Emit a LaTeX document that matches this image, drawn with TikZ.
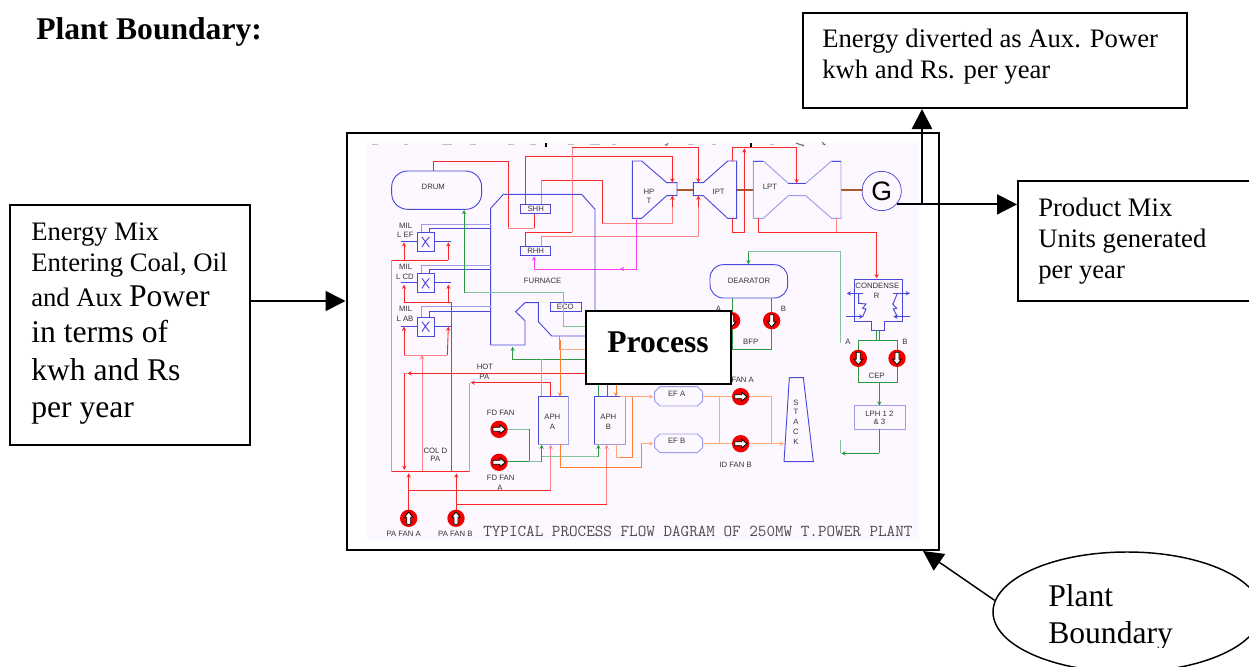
\documentclass[tikz,border=0pt]{standalone}
\usepackage{fontspec}
\setmainfont{Liberation Serif}
\newfontfamily\lsans{Liberation Sans}
\usetikzlibrary{arrows.meta,shapes.geometric}
\definecolor{cred}{HTML}{F82828}
\definecolor{lred}{HTML}{FF8484}
\definecolor{cblue}{HTML}{4A4AD8}
\definecolor{lblue}{HTML}{9C9CE8}
\definecolor{cgreen}{HTML}{2E9A3E}
\definecolor{lgreen}{HTML}{84C49A}
\definecolor{corange}{HTML}{FF8030}
\definecolor{lorange}{HTML}{FFAA78}
\definecolor{cmag}{HTML}{FF40F0}
\definecolor{cbrown}{HTML}{A85A28}
\definecolor{bgp}{HTML}{FDF8FF}
\newcommand{\lsz}{\fontsize{20}{22}\selectfont}
\newcommand{\bsz}{\fontsize{23.7}{26}\selectfont}
\newcommand{\fanat}[3]{%
  \begin{scope}[shift={(#1,#2)},rotate=#3]
    \fill[red!95!black] (0,0) circle[radius=26];
    \draw[black,line width=.6pt,fill=white] (-18,-6)--(3,-6)--(3,-13)--(19,0)--(3,13)--(3,6)--(-18,6)--cycle;
  \end{scope}}
\tikzset{
  box/.style={draw=black,line width=1.5pt,fill=white,inner sep=0pt},
  big/.style={anchor=base west,inner sep=0pt,font=\lsz},
  bigger/.style={anchor=base west,inner sep=0pt,font=\bsz},
  lab/.style={inner sep=0pt,font=\lsans\fontsize{5.8}{6}\selectfont,text=black!80},
  link/.style={line width=1.3pt,draw=black,-{Triangle[length=15pt,width=15pt]}},
  arr/.style={-{Stealth[length=3.2pt,width=3.2pt]}},
  zoomA/.style={shift={(350,130)},x=.25pt,y=-.25pt},
  zoomB/.style={shift={(620,130)},x=.25pt,y=-.25pt},
  zoomC/.style={shift={(350,340)},x=.25pt,y=-.25pt},
  zoomD/.style={shift={(620,340)},x=.25pt,y=-.25pt},
  pipe/.style={line width=.65pt,line join=miter},
  equip/.style={line width=.7pt,draw=cblue},
  equipl/.style={line width=.7pt,draw=lblue}
}
\begin{document}
\begin{tikzpicture}[x=.75pt,y=-.75pt]
\path[clip] (0,0) rectangle (1249,667);

% plant frame and drawing background
\node[box,minimum width=592*.75pt,minimum height=417*.75pt] (frame) at (642.5,341.5) {};
\fill[bgp] (367,143) rectangle (919,540);
% remains of a cut-off heading at the top edge of the drawing
\foreach \xa/\xb in {372/378,404/408,442/452,470/476,508/514,530/536,568/574,590/600,612/616,664/668,688/694,712/716,770/774,798/804,822/826}
  \draw[black!25,line width=.5pt] (\xa,144)--(\xb,144);
\draw[black,line width=1pt] (546,143)--(546,147);
\draw[black,line width=1pt] (751,143)--(751,147);
\draw[black!60,line width=.7pt] (668,143)--(666,146) (796,143)--(804,146) (822,142)--(825,145);

% ---------- upper left of the flow diagram ----------
\begin{scope}[zoomA]
  \draw[equip,rounded corners=12pt] (125,123) rectangle (395,238);
  \node[lab] (drum) at (250,172) {DRUM};
  \draw[pipe,cred] (250,123)--(250,95)--(475,95)--(475,290);
  \draw[pipe,lred] (475,290)--(475,295)--(552,295);
  \draw[pipe,cred] (552,295)--(552,250);
  \draw[pipe,cred] (525,222)--(525,80)--(900,80);
  \draw[pipe,lred] (575,222)--(575,150);
  \draw[pipe,cred] (575,150)--(757,150)--(757,280);
  \draw[pipe,lred] (757,280)--(900,280);
  \draw[pipe,cred] (525,347)--(525,307)--(667,307);
  \draw[pipe,lred] (667,307)--(667,52);
  \draw[pipe,cred] (667,52)--(900,52);
  \draw[pipe,lred] (575,347)--(575,320)--(900,320);
  \draw[pipe,cmag,arr] (862,417)--(552,417)--(552,379);
  % furnace
  \draw[equip] (422,645)--(422,235)--(460,193)--(695,193)--(735,238)--(735,560);
  \draw[equip] (710,618)--(605,618)--(565,575)--(565,518)--(525,518)--(497,545)--(525,572)--(525,645)--(422,645);
  \draw[equip] (512,223) rectangle (602,250);
  \draw[equip] (512,348) rectangle (602,377);
  \draw[equip] (602,518) rectangle (694,545);
  \node[lab] (shh) at (557,237) {SHH};
  \node[lab] (rhh) at (557,363) {RHH};
  \node[lab] (eco) at (646,532) {ECO};
  \node[lab] (furn) at (578,453) {FURNACE};
  % mills
  \foreach \t/\a/\b in {307/282/295,431/405/418,561/530/544}{
    \draw[equipl] (422,\a)--(215,\a)--(215,\t);
    \draw[equip] (422,\b)--(238,\b)--(238,\t);
    \draw[equip] (202,\t) rectangle (254,\t+57);
    \draw[equip] (216,\t+14)--(226,\t+28)--(216,\t+44) (238,\t+14)--(226,\t+28)--(238,\t+44);
    \draw[equip] (152,\t+27)--(202,\t+27) (254,\t+27)--(302,\t+27);
  }
  \node[lab] (m1a) at (167,287) {MIL};
  \node[lab] (m1b) at (166,314) {L EF};
  \node[lab] (m2a) at (167,411) {MIL};
  \node[lab] (m2b) at (165,440) {L CD};
  \node[lab] (m3a) at (167,537) {MIL};
  \node[lab] (m3b) at (165,567) {L AB};
  % mill air
  \draw[pipe,lred] (125,390)--(125,690);
  \draw[pipe,cred,arr] (162,390)--(162,337);
  \draw[pipe,cred] (125,390)--(295,390);
  \draw[pipe,cred,arr] (295,390)--(295,337);
  \draw[pipe,cred,arr] (162,517)--(162,464);
  \draw[pipe,cred] (162,517)--(305,517);
  \draw[pipe,cred,arr] (295,517)--(295,464);
  \draw[pipe,cred] (305,517)--(305,690);
  \draw[pipe,cred,arr] (162,675)--(162,590);
  \draw[pipe,cred,arr] (292,675)--(295,590);
  % feed water
  \draw[pipe,lgreen] (342,488)--(640,488)--(640,588)--(710,588);
  \draw[pipe,cgreen,arr] (342,488)--(342,240);
  \draw[pipe,corange] (628,618)--(628,660);
  \draw[pipe,corange] (628,658)--(710,658);
\end{scope}

% ---------- upper right: turbines, deaerator, condenser ----------
\begin{scope}[zoomB]
  \draw[line width=2pt,cbrown] (171,180)--(220,180) (350,180)--(400,180) (663,180)--(728,180);
  \draw[equip] (37,93)--(65,93)--(140,158)--(171,158)--(171,197)--(140,197)--(65,265)--(37,265)--cycle;
  \draw[equip] (220,158)--(250,158)--(323,93)--(350,93)--(350,265)--(323,265)--(250,197)--(220,197)--cycle;
  \draw[equipl] (400,93)--(430,93)--(505,160)--(557,160)--(635,93)--(663,93)--(663,265)--(635,265)--(557,197)--(505,197)--(430,265)--(400,265)--cycle;
  \draw[equip] (505,160)--(557,160) (400,93)--(430,93) (635,93)--(663,93);
  \node[lab] (hp) at (87,186) {HP};
  \node[lab] (hpt) at (87,214) {T};
  \node[lab] (ipt) at (296,185) {IPT};
  \node[lab] (lpt) at (450,172) {LPT};
  \node[circle,draw=cblue,line width=.55pt,minimum size=118*.25pt,inner sep=0pt,font=\lsans\fontsize{20}{22}\selectfont] (G) at (785,183) {G};
  % steam lines
  \draw[pipe,cred,arr] (0,80)--(157,80)--(157,158);
  \draw[pipe,lred] (0,280)--(157,280)--(157,230);
  \draw[pipe,cred,arr] (157,230)--(157,197);
  \draw[pipe,cred,arr] (0,52)--(235,52)--(235,158);
  \draw[pipe,lred] (0,320)--(235,320)--(235,230);
  \draw[pipe,cred,arr] (235,230)--(235,197);
  \draw[pipe,cmag,arr] (50,265)--(50,417)--(0,417);
  \draw[pipe,cred] (337,93)--(337,52)--(530,52);
  \draw[pipe,cred,arr] (530,52)--(530,160);
  \draw[pipe,cred,arr] (337,265)--(337,307)--(373,307)--(373,55);
  \draw[pipe,cred] (415,265)--(415,307)--(770,307);
  \draw[pipe,cred,arr] (770,307)--(770,445);
  \draw[pipe,lred] (650,265)--(650,307);
  % deaerator
  \draw[pipe,lgreen] (662,640)--(662,365)--(385,365);
  \draw[pipe,cgreen,arr] (385,365)--(385,403);
  \draw[equip,rounded corners=10pt] (270,404) rectangle (503,504);
  \node[lab] (dear) at (387,453) {DEARATOR};
  \draw[pipe,cgreen] (337,504)--(337,657)--(453,657)--(453,504);
  \node[lab] (bfp) at (392,637) {BFP};
  \node[lab] (bb) at (490,537) {B};
  \node[lab] (ba) at (295,537) {A};
  \fanat{335}{572}{-90}
  \fanat{455}{572}{-90}
  % condenser
  \draw[equip] (702,447)--(847,447)--(847,574)--(793,574)--(793,600)--(755,600)--(755,574)--(702,574)--cycle;
  \node[lab] (cond) at (772,467) {CONDENSE};
  \node[lab] (condr) at (770,498) {R};
  \draw[equip,arr] (730,490)--(680,490);
  \draw[equip,arr] (820,490)--(870,490);
  \draw[equip,arr] (678,560)--(730,560);
  \draw[equip,arr] (870,560)--(820,560);
  \draw[equip] (716,490)--(716,520)--(738,522)--(728,535)--(738,537)--(728,560);
  \draw[equip] (832,490)--(820,520)--(818,522)--(830,535)--(820,537)--(832,560);
  \draw[pipe,cgreen] (770,600)--(770,630) (777,600)--(777,630);
  \draw[pipe,cgreen] (715,630)--(831,630);
  \node[lab] (ca) at (684,636) {A};
  \node[lab] (cb) at (855,636) {B};
\end{scope}

% ---------- lower left ----------
\begin{scope}[zoomC]
  \draw[pipe,lred] (125,0)--(125,395);
  \draw[pipe,lred] (162,45)--(292,45);
  \draw[pipe,lred,arr] (216,395)--(216,45);
  \draw[pipe,cred] (125,395)--(358,395);
  \draw[pipe,lred] (358,395)--(358,128);
  \draw[pipe,cred] (305,0)--(305,395);
  \draw[pipe,cred,arr] (705,100)--(172,100);
  \draw[pipe,lred] (163,100)--(172,100);
  \draw[pipe,cred,arr] (163,100)--(163,390);
  \draw[pipe,cred,arr] (602,170)--(602,128)--(362,128);
  \draw[pipe,cred,arr] (176,510)--(176,400);
  \draw[pipe,cred] (176,451)--(602,451);
  \draw[pipe,lred,arr] (602,451)--(602,314);
  \draw[pipe,cred,arr] (319,510)--(319,400);
  \draw[pipe,cred] (319,493)--(770,493);
  \draw[pipe,lred,arr] (770,493)--(770,314);
  \node[lab] (hot) at (405,82) {HOT};
  \node[lab] (hotpa) at (403,112) {PA};
  \node[lab] (cold) at (256,332) {COL D};
  \node[lab] (coldpa) at (256,358) {PA};
  % gas and air lines
  \draw[pipe,cgreen,arr] (705,58)--(488,58)--(488,20);
  \draw[pipe,lgreen] (575,58)--(575,170);
  \draw[pipe,corange,arr] (630,0)--(630,170);
  \draw[pipe,lorange] (630,28)--(705,28);
  \draw[pipe,cgreen] (745,130)--(745,170);
  \draw[pipe,cred] (771,130)--(771,170);
  \draw[pipe,corange,arr] (798,130)--(798,170);
  % air preheaters
  \draw[equipl] (565,170) rectangle (655,312);
  \draw[equip] (565,312)--(565,170)--(655,170);
  \draw[equipl] (734,170) rectangle (825,312);
  \draw[equip] (734,312)--(734,170)--(825,170);
  \node[lab] (apha) at (607,232) {APH};
  \node[lab] (aphaa) at (607,262) {A};
  \node[lab] (aphb) at (775,232) {APH};
  \node[lab] (aphbb) at (775,262) {B};
  % FD fans
  \draw[pipe,lgreen] (472,268)--(538,268);
  \draw[pipe,cgreen] (538,268)--(538,365);
  \draw[pipe,cgreen] (472,365)--(538,365);
  \draw[pipe,lgreen] (538,365)--(575,365);
  \draw[pipe,cgreen,arr] (575,365)--(575,314);
  \draw[pipe,lgreen] (575,350)--(745,350);
  \draw[pipe,cgreen,arr] (745,350)--(745,314);
  \fanat{447}{268}{0}
  \fanat{447}{367}{0}
  \node[lab] (fd1) at (452,219) {FD FAN};
  \node[lab] (fd2) at (452,414) {FD FAN};
  \node[lab] (fd2a) at (450,445) {A};
  % flue gas
  \draw[pipe,corange] (630,312)--(630,381)--(873,381)--(873,311)--(900,311);
  \draw[pipe,lorange] (798,312)--(798,352)--(848,352);
  \draw[pipe,corange] (848,352)--(848,170);
  \draw[pipe,lorange] (848,170)--(900,170);
  % PA fans
  \fanat{176}{535}{90}
  \fanat{318}{535}{90}
  \node[lab] (pa1) at (161,583) {PA FAN A};
  \node[lab] (pa2) at (316,583) {PA FAN B};
\end{scope}

% ---------- lower right ----------
\begin{scope}[zoomD]
  \draw[pipe,lorange,arr] (0,170)--(100,170);
  \draw[pipe,lorange,arr] (63,311)--(100,311);
  \draw[pipe,corange] (0,381)--(63,381)--(63,311);
  \draw[pipe,corange] (0,352)--(38,352)--(38,170);
  \draw[equipl] (104,155)--(120,140)--(232,140)--(248,155)--(248,183)--(232,198)--(120,198)--(104,183)--cycle;
  \draw[equipl] (104,297)--(120,282)--(232,282)--(248,297)--(248,323)--(232,338)--(120,338)--(104,323)--cycle;
  \node[lab] (efa) at (170,162) {EF A};
  \node[lab] (efb) at (170,302) {EF B};
  \draw[pipe,lorange] (248,170)--(338,170) (388,170)--(453,170)--(453,311) (248,311)--(338,311);
  \draw[pipe,lorange,arr] (388,311)--(492,311);
  \draw[pipe,lorange] (297,170)--(297,311);
  \fanat{362}{170}{0}
  \fanat{362}{311}{0}
  \node[lab] (fana) at (368,120) {FAN A};
  \node[lab] (idb) at (347,375) {ID FAN B};
  \draw[equip] (508,113)--(550,113)--(580,365)--(492,365)--cycle;
  \node[lab] (s1) at (528,188) {S};
  \node[lab] (s2) at (528,217) {T};
  \node[lab] (s3) at (528,247) {A};
  \node[lab] (s4) at (528,275) {C};
  \node[lab] (s5) at (528,305) {K};
  % condensate
  \draw[pipe,cgreen] (715,0)--(715,128)--(831,128)--(831,0);
  \fanat{715}{55}{-90}
  \fanat{831}{55}{-90}
  \node[lab] (cep) at (770,107) {CEP};
  \draw[pipe,cgreen,arr] (778,128)--(778,197);
  \draw[equipl] (702,197) rectangle (857,268);
  \node[lab] (lph1) at (778,220) {LPH 1 2};
  \node[lab] (lph2) at (778,246) {\& 3};
  \draw[pipe,cgreen] (778,268)--(778,340);
  \draw[pipe,lgreen] (662,340)--(662,300);
  \draw[pipe,cgreen,arr] (778,340)--(664,340);
\end{scope}

\node[inner sep=0pt,anchor=west,font=\ttfamily\fontsize{12.5}{13}\selectfont,text=black!70] (title) at (483,531) {TYPICAL PROCESS FLOW DAGRAM OF 250MW T.POWER PLANT};

% ---------- outer boxes ----------
\node[box,minimum width=145*.75pt,minimum height=73*.75pt] (process) at (658,347.5) {};
\node[anchor=base,inner sep=0pt,font=\bfseries\bsz] (processt) at (658,352) {Process};

\node[box,minimum width=240*.75pt,minimum height=240*.75pt] (mix) at (130,325) {};
\node[box,minimum width=384*.75pt,minimum height=95*.75pt] (aux) at (994.5,60.5) {};
\node[box,minimum width=240*.75pt,minimum height=120*.75pt] (prod) at (1138,241) {};
\node[draw=black,line width=1.1pt,ellipse,fill=white,minimum width=268*.75pt,minimum height=120*.75pt,inner sep=0pt] (ell) at (1127,612) {};

\node[bigger,font=\bfseries\bsz] (head) at (36,40) {Plant Boundary:};

\node[big] (t1) at (31,240) {Energy Mix};
\node[big] (t2) at (31,271) {Entering Coal, Oil};
\node[big] (t3) at (31,306) {and Aux {\bsz Power}};
\node[bigger] (t4) at (31,342) {in terms of};
\node[bigger] (t5) at (31,380) {kwh and Rs};
\node[bigger] (t6) at (31,417) {per year};

\node[big] (a1) at (822,48) {Energy diverted as Aux. Power};
\node[big] (a2) at (822,79) {kwh and Rs. per year};

\node[big] (p1) at (1038,216) {Product Mix};
\node[big] (p2) at (1038,247) {Units generated};
\node[big] (p3) at (1038,278) {per year};

\node[bigger] (b1) at (1048,606) {Plant};
\begin{scope}
  \clip (1040,615) rectangle (1200,647);
  \node[bigger] (b2) at (1048,643) {Boundary};
\end{scope}

% ---------- connectors ----------
\coordinate (mixout) at (250,301);
\coordinate (branch) at (922,205);
\coordinate (gout) at (G.-42);
\coordinate (bndtip) at (923,551);
\draw[link] (mixout) -- (mixout -| frame.west);
\draw[link,line width=1.5pt] (gout) -- (gout -| prod.west);
\draw[link,line width=1.8pt] (branch) -- (branch |- aux.south);
\draw[link,line width=1.1pt] (ell.175) -- (bndtip);
\end{tikzpicture}
\end{document}
